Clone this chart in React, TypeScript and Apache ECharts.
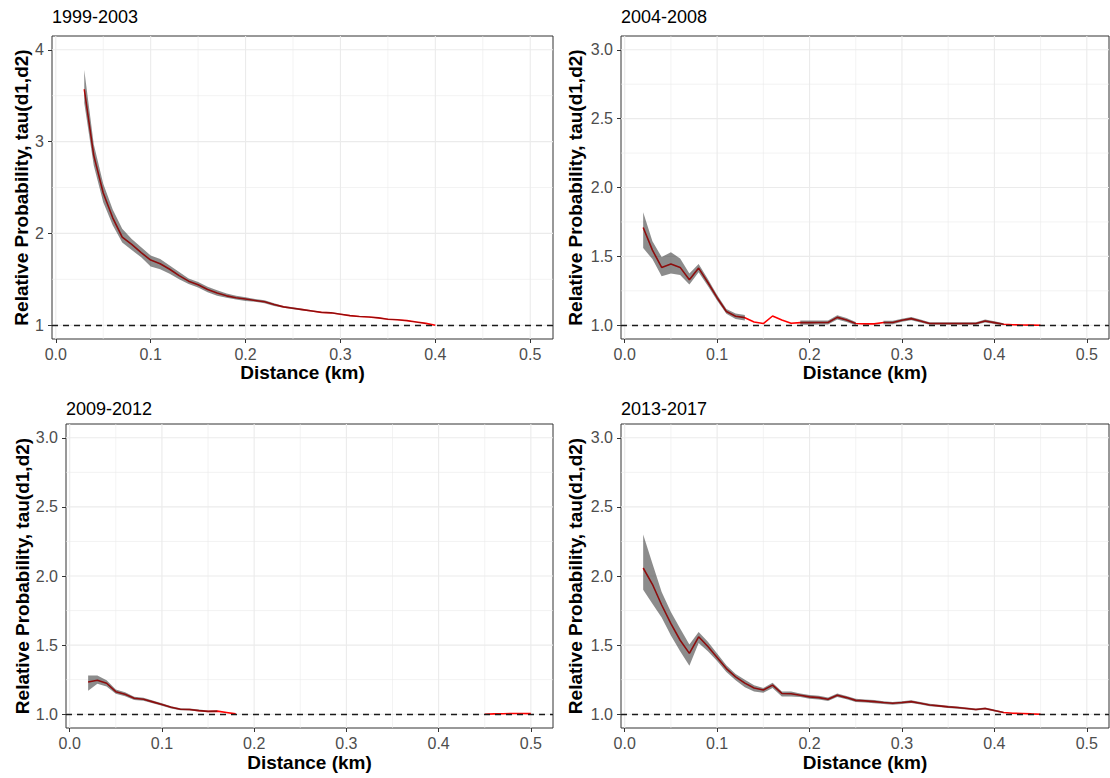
import React, { useEffect, useRef } from "react";
import * as echarts from "echarts";

const FONT = "'Liberation Sans', Arial, Helvetica, sans-serif";

// ---------- tick values ----------
const X_TICKS = [0, 0.1, 0.2, 0.3, 0.4, 0.5];
const X_MINOR = [0.05, 0.15, 0.25, 0.35, 0.45];
const Y_TICKS_A = [1, 2, 3, 4];
const Y_MINOR_A = [1.5, 2.5, 3.5];
const Y_TICKS_B = [1.0, 1.5, 2.0, 2.5, 3.0];
const Y_MINOR_B = [1.25, 1.75, 2.25, 2.75];

// ---------- 1999-2003 ----------
const X_1999 = [0.03, 0.04, 0.05, 0.06, 0.07, 0.08, 0.09, 0.1, 0.11, 0.12, 0.13, 0.14, 0.15, 0.16, 0.17, 0.18, 0.19, 0.2, 0.21, 0.22, 0.23, 0.24, 0.25, 0.26, 0.27, 0.28, 0.29, 0.3, 0.31, 0.32, 0.33, 0.34, 0.35, 0.36, 0.37, 0.38, 0.39, 0.4];
const TAU_1999 = [3.57, 2.85, 2.44, 2.17, 1.96, 1.88, 1.79, 1.71, 1.67, 1.61, 1.54, 1.48, 1.44, 1.39, 1.35, 1.32, 1.3, 1.285, 1.27, 1.255, 1.225, 1.2, 1.185, 1.17, 1.155, 1.14, 1.135, 1.12, 1.105, 1.095, 1.09, 1.08, 1.065, 1.06, 1.05, 1.035, 1.02, 1.0];
const LO_1999 = [3.42, 2.74, 2.34, 2.09, 1.9, 1.82, 1.74, 1.64, 1.61, 1.56, 1.5, 1.45, 1.41, 1.36, 1.32, 1.3, 1.28, 1.265, 1.255, 1.24, 1.21, 1.19, 1.175, 1.16, 1.146, 1.132, 1.127, 1.113, 1.098, 1.089, 1.084, 1.074, 1.06, 1.055, 1.045, 1.031, 1.016, null];
const HI_1999 = [3.78, 2.97, 2.54, 2.26, 2.05, 1.94, 1.85, 1.76, 1.72, 1.65, 1.58, 1.51, 1.47, 1.42, 1.38, 1.345, 1.32, 1.305, 1.287, 1.272, 1.24, 1.21, 1.195, 1.18, 1.164, 1.148, 1.143, 1.127, 1.112, 1.101, 1.096, 1.086, 1.07, 1.065, 1.055, 1.039, 1.024, null];

// ---------- 2004-2008 ----------
const X_2004 = [0.02, 0.03, 0.04, 0.05, 0.06, 0.07, 0.08, 0.09, 0.1, 0.11, 0.12, 0.13, 0.14, 0.15, 0.16, 0.17, 0.18, 0.19, 0.2, 0.21, 0.22, 0.23, 0.24, 0.25, 0.26, 0.27, 0.28, 0.29, 0.3, 0.31, 0.32, 0.33, 0.34, 0.35, 0.36, 0.37, 0.38, 0.39, 0.4, 0.41, 0.42, 0.43, 0.44, 0.45];
const TAU_2004 = [1.71, 1.545, 1.42, 1.445, 1.42, 1.33, 1.415, 1.31, 1.2, 1.1, 1.065, 1.055, 1.024, 1.012, 1.067, 1.038, 1.014, 1.019, 1.019, 1.02, 1.02, 1.057, 1.038, 1.012, 1.01, 1.01, 1.02, 1.02, 1.036, 1.048, 1.031, 1.012, 1.012, 1.012, 1.012, 1.012, 1.012, 1.031, 1.019, 1.007, 1.004, 1.002, 1.001, 1.0];
const LO_2004 = [1.56, 1.48, 1.355, 1.375, 1.365, 1.295, 1.385, 1.285, 1.18, 1.083, 1.045, 1.035, null, null, null, null, null, 1.003, 1.003, 1.005, 1.005, 1.042, 1.024, 1.0, null, null, 1.008, 1.008, 1.025, 1.037, 1.02, 1.003, 1.003, 1.003, 1.003, 1.003, 1.003, 1.02, 1.009, 0.999, null, null, null, null];
const HI_2004 = [1.82, 1.61, 1.495, 1.53, 1.485, 1.375, 1.445, 1.335, 1.22, 1.118, 1.085, 1.075, null, null, null, null, null, 1.035, 1.035, 1.035, 1.035, 1.072, 1.052, 1.024, null, null, 1.032, 1.032, 1.047, 1.059, 1.042, 1.021, 1.021, 1.021, 1.021, 1.021, 1.021, 1.042, 1.029, 1.015, null, null, null, null];

// ---------- 2009-2012 ----------
const X_2009 = [0.02, 0.03, 0.04, 0.05, 0.06, 0.07, 0.08, 0.09, 0.1, 0.11, 0.12, 0.13, 0.14, 0.15, 0.16, 0.17, 0.18, 0.19, 0.2, 0.21, 0.22, 0.23, 0.24, 0.25, 0.26, 0.27, 0.28, 0.29, 0.3, 0.31, 0.32, 0.33, 0.34, 0.35, 0.36, 0.37, 0.38, 0.39, 0.4, 0.41, 0.42, 0.43, 0.44, 0.45, 0.46, 0.47, 0.48, 0.49, 0.5];
const TAU_2009 = [1.233, 1.245, 1.224, 1.163, 1.144, 1.115, 1.108, 1.089, 1.07, 1.05, 1.036, 1.034, 1.026, 1.02, 1.022, 1.012, 1.002, null, null, null, null, null, null, null, null, null, null, null, null, null, null, null, null, null, null, null, null, null, null, null, null, null, null, 1.0, 1.002, 1.003, 1.005, 1.005, 1.004];
const LO_2009 = [1.17, 1.22, 1.2, 1.148, 1.13, 1.103, 1.097, 1.079, 1.061, 1.042, 1.029, 1.027, 1.019, 1.014, 1.015, null, null, null, null, null, null, null, null, null, null, null, null, null, null, null, null, null, null, null, null, null, null, null, null, null, null, null, null, null, null, null, null, null, null];
const HI_2009 = [1.28, 1.28, 1.245, 1.178, 1.158, 1.127, 1.119, 1.099, 1.079, 1.058, 1.043, 1.041, 1.033, 1.026, 1.029, null, null, null, null, null, null, null, null, null, null, null, null, null, null, null, null, null, null, null, null, null, null, null, null, null, null, null, null, null, null, null, null, null, null];

// ---------- 2013-2017 ----------
const X_2013 = [0.02, 0.03, 0.04, 0.05, 0.06, 0.07, 0.08, 0.09, 0.1, 0.11, 0.12, 0.13, 0.14, 0.15, 0.16, 0.17, 0.18, 0.19, 0.2, 0.21, 0.22, 0.23, 0.24, 0.25, 0.26, 0.27, 0.28, 0.29, 0.3, 0.31, 0.32, 0.33, 0.34, 0.35, 0.36, 0.37, 0.38, 0.39, 0.4, 0.41, 0.42, 0.43, 0.44, 0.45];
const TAU_2013 = [2.058, 1.94, 1.79, 1.655, 1.535, 1.44, 1.56, 1.49, 1.41, 1.33, 1.27, 1.225, 1.19, 1.175, 1.21, 1.15, 1.148, 1.137, 1.125, 1.12, 1.108, 1.137, 1.12, 1.1, 1.096, 1.091, 1.084, 1.079, 1.084, 1.091, 1.079, 1.067, 1.06, 1.053, 1.048, 1.041, 1.034, 1.041, 1.026, 1.012, 1.007, 1.005, 1.002, 1.0];
const LO_2013 = [1.9, 1.8, 1.7, 1.57, 1.455, 1.35, 1.515, 1.455, 1.385, 1.305, 1.245, 1.195, 1.165, 1.155, 1.19, 1.128, 1.128, 1.124, 1.112, 1.107, 1.095, 1.124, 1.108, 1.089, 1.085, 1.08, 1.074, 1.069, 1.074, 1.081, 1.07, 1.058, 1.052, 1.045, 1.04, 1.033, 1.027, 1.033, 1.019, 1.006, null, null, null, null];
const HI_2013 = [2.3, 2.09, 1.885, 1.74, 1.62, 1.505, 1.595, 1.525, 1.44, 1.355, 1.29, 1.25, 1.21, 1.19, 1.228, 1.165, 1.165, 1.15, 1.138, 1.133, 1.121, 1.15, 1.132, 1.111, 1.107, 1.102, 1.094, 1.089, 1.094, 1.101, 1.088, 1.076, 1.068, 1.061, 1.056, 1.049, 1.041, 1.049, 1.033, 1.018, null, null, null, null];

const TITLES = ["1999-2003", "2004-2008", "2009-2012", "2013-2017"];
const X_NAME = "Distance (km)";
const Y_NAME = "Relative Probability, tau(d1,d2)";
const REF_LINE = 1;

const PANEL_DATA = [
  { x: X_1999, tau: TAU_1999, lo: LO_1999, hi: HI_1999, yMin: 0.85, yMax: 4.15, yTicks: Y_TICKS_A, yMinor: Y_MINOR_A, yDec: 0 },
  { x: X_2004, tau: TAU_2004, lo: LO_2004, hi: HI_2004, yMin: 0.9, yMax: 3.1, yTicks: Y_TICKS_B, yMinor: Y_MINOR_B, yDec: 1 },
  { x: X_2009, tau: TAU_2009, lo: LO_2009, hi: HI_2009, yMin: 0.9, yMax: 3.1, yTicks: Y_TICKS_B, yMinor: Y_MINOR_B, yDec: 1 },
  { x: X_2013, tau: TAU_2013, lo: LO_2013, hi: HI_2013, yMin: 0.9, yMax: 3.1, yTicks: Y_TICKS_B, yMinor: Y_MINOR_B, yDec: 1 },
];

// layout (pixels)
const LAYOUT = [
  { left: 52, top: 36, width: 501, height: 303, titleTop: 8, yGap: 20, xGap: 23 },
  { left: 621, top: 36, width: 488, height: 303, titleTop: 8, yGap: 36, xGap: 23 },
  { left: 66, top: 424, width: 487, height: 304, titleTop: 400, yGap: 34, xGap: 25 },
  { left: 621, top: 424, width: 488, height: 304, titleTop: 400, yGap: 36, xGap: 25 },
];
const X_MIN = -0.004;
const X_MAX = 0.524;

// contiguous runs where both ribbon bounds exist
function ribbonRuns(lo: (number | null)[], hi: (number | null)[]) {
  const runs: number[][] = [];
  let start = -1;
  for (let k = 0; k <= lo.length; k++) {
    const ok = k < lo.length && lo[k] != null && hi[k] != null;
    if (ok && start < 0) start = k;
    if (!ok && start >= 0) {
      if (k - 1 > start) runs.push([start, k - 1]);
      start = -1;
    }
  }
  return runs;
}

function buildOption() {
  const grid: any[] = [];
  const xAxis: any[] = [];
  const yAxis: any[] = [];
  const title: any[] = [];
  const series: any[] = [];

  PANEL_DATA.forEach((p, i) => {
    const L = LAYOUT[i];
    grid.push({
      left: L.left, top: L.top, width: L.width, height: L.height,
      show: true, borderColor: "#333333", borderWidth: 1, backgroundColor: "#ffffff",
      containLabel: false,
    });
    title.push({
      text: TITLES[i], left: L.left, top: L.titleTop, padding: 0,
      textStyle: { fontFamily: FONT, fontSize: 18, fontWeight: "normal", color: "#000000" },
    });
    xAxis.push({
      type: "value", gridIndex: i, min: X_MIN, max: X_MAX,
      splitLine: { show: false },
      axisLine: { show: false, onZero: false },
      axisTick: { show: true, length: 4, lineStyle: { color: "#333333", width: 1 }, customValues: X_TICKS },
      axisLabel: {
        customValues: X_TICKS, formatter: (v: number) => v.toFixed(1),
        color: "#4D4D4D", fontSize: 16, fontFamily: FONT, margin: 7,
      },
      name: X_NAME, nameLocation: "middle", nameGap: L.xGap,
      nameTextStyle: { fontFamily: FONT, fontSize: 19, fontWeight: "bold", color: "#000000" },
    });
    yAxis.push({
      type: "value", gridIndex: i, min: p.yMin, max: p.yMax,
      splitLine: { show: false },
      axisLine: { show: false, onZero: false },
      axisTick: { show: true, length: 4, lineStyle: { color: "#333333", width: 1 }, customValues: p.yTicks },
      axisLabel: {
        customValues: p.yTicks, formatter: (v: number) => v.toFixed(p.yDec),
        color: "#4D4D4D", fontSize: 16, fontFamily: FONT, margin: 8,
      },
      name: Y_NAME, nameLocation: "middle", nameGap: L.yGap, nameRotate: 90,
      nameTextStyle: { fontFamily: FONT, fontSize: 19, fontWeight: "bold", color: "#000000" },
    });

    // gridlines through the axis scales
    const gridData: any[] = [];
    X_TICKS.forEach((v) => gridData.push([v, 1, 1]));
    X_MINOR.forEach((v) => gridData.push([v, 1, 0]));
    p.yTicks.forEach((v) => gridData.push([v, 0, 1]));
    p.yMinor.forEach((v) => gridData.push([v, 0, 0]));
    series.push({
      type: "custom", xAxisIndex: i, yAxisIndex: i, silent: true, z: 1,
      data: gridData,
      renderItem: (params: any, api: any) => {
        const v = api.value(0);
        const vert = api.value(1) === 1;
        const major = api.value(2) === 1;
        const cs = params.coordSys;
        const style = { stroke: "#EBEBEB", lineWidth: major ? 1.1 : 0.6 };
        if (vert) {
          const px = api.coord([v, p.yMin])[0];
          return { type: "line", shape: { x1: px, y1: cs.y, x2: px, y2: cs.y + cs.height }, style };
        }
        const py = api.coord([X_MIN, v])[1];
        return { type: "line", shape: { x1: cs.x, y1: py, x2: cs.x + cs.width, y2: py }, style };
      },
    });

    // red estimate line
    series.push({
      type: "line", xAxisIndex: i, yAxisIndex: i, z: 2, silent: true,
      showSymbol: false, symbol: "none", connectNulls: false,
      lineStyle: { color: "#FF0000", width: 1.6 },
      data: p.x.map((xv, k) => [xv, p.tau[k]]),
      markLine: {
        silent: true, symbol: ["none", "none"], label: { show: false },
        lineStyle: { color: "#1A1A1A", type: [6, 5], width: 1.4 },
        data: [{ yAxis: REF_LINE }],
      },
    });

    // ribbon as polygons through the scales (one polygon per contiguous run)
    const runs = ribbonRuns(p.lo, p.hi);
    series.push({
      type: "custom", xAxisIndex: i, yAxisIndex: i, silent: true, z: 3,
      data: runs.map((r) => [p.x[r[0]], p.lo[r[0]], r[0], r[1]]),
      renderItem: (params: any, api: any) => {
        const s = api.value(2);
        const e = api.value(3);
        const pts: number[][] = [];
        for (let k = s; k <= e; k++) pts.push(api.coord([p.x[k], p.hi[k]]));
        for (let k = e; k >= s; k--) pts.push(api.coord([p.x[k], p.lo[k]]));
        return {
          type: "polygon",
          shape: { points: pts },
          style: { fill: "rgba(25,25,25,0.5)", stroke: "none" },
        };
      },
    });
  });

  return { animation: false, backgroundColor: "#ffffff", title, grid, xAxis, yAxis, series };
}

export default function App() {
  const ref = useRef<HTMLDivElement>(null);
  useEffect(() => {
    if (!ref.current) return;
    const chart = echarts.init(ref.current, undefined, { renderer: "svg" });
    chart.setOption(buildOption() as any);
    return () => chart.dispose();
  }, []);
  return (
    <div
      ref={ref}
      style={{ position: "fixed", left: 0, top: 0, width: 1110, height: 778, background: "#fff" }}
    />
  );
}
